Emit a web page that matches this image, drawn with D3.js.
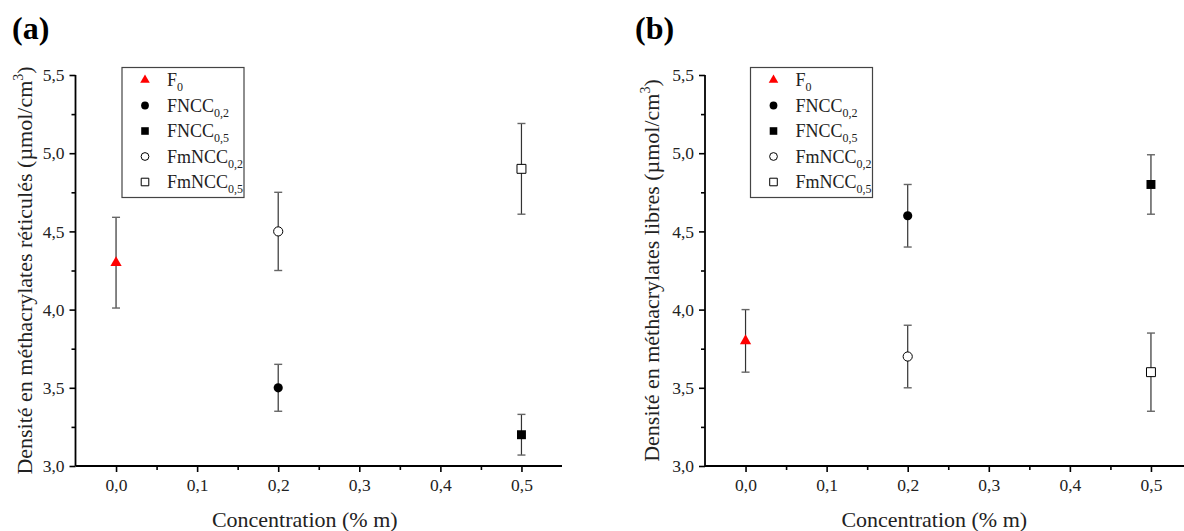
<!DOCTYPE html>
<html><head><meta charset="utf-8">
<script src="https://cdn.jsdelivr.net/npm/d3@7"></script>
<style>
body{margin:0;background:#fff;}
text{font-family:"Liberation Serif","Times New Roman",serif;}
</style></head>
<body><svg id="c" width="1184" height="531"></svg>
<script>
const seriesNames = ["F", "FNCC", "FNCC", "FmNCC", "FmNCC"];
const seriesSubs = ["0", "0,2", "0,5", "0,2", "0,5"];
const concentrations = [0.0, 0.2, 0.5, 0.2, 0.5];
const reticulesValues = [4.3, 3.5, 3.2, 4.5, 4.9];
const reticulesErrors = [0.29, 0.15, 0.13, 0.25, 0.29];
const libresValues = [3.8, 4.6, 4.8, 3.7, 3.6];
const libresErrors = [0.20, 0.20, 0.19, 0.20, 0.25];
const xTickValues = [0.0, 0.1, 0.2, 0.3, 0.4, 0.5];
const xTickLabels = ["0,0", "0,1", "0,2", "0,3", "0,4", "0,5"];
const yTickValues = [3.0, 3.5, 4.0, 4.5, 5.0, 5.5];
const yTickLabels = ["3,0", "3,5", "4,0", "4,5", "5,0", "5,5"];
const markerShapes = ["triangle", "circle", "square", "circle", "square"];
const markerFilled = [true, true, true, false, false];
const markerColors = ["#ff0000", "#000", "#000", "#000", "#000"];

const FONT = "Liberation Serif";
const svg = d3.select("#c");

function drawPanel(cfg) {
  const g = svg.append("g").attr("font-family", FONT);
  const x = d3.scaleLinear().domain([-0.05, 0.55]).range([cfg.left, cfg.left + 486.5]);
  const y = d3.scaleLinear().domain([3.0, 5.5]).range([466, 75]);

  g.append("text").attr("x", cfg.letterX).attr("y", 39).attr("font-family", FONT)
    .attr("font-size", 32).attr("font-weight", "bold").text(cfg.letter);

  const xa = g.append("g").attr("transform", `translate(0,${y(3.0)})`)
    .call(d3.axisBottom(x).tickValues(xTickValues).tickSize(6).tickPadding(7)
      .tickFormat((d, i) => xTickLabels[i]));
  const xm = g.append("g").attr("transform", `translate(0,${y(3.0)})`)
    .call(d3.axisBottom(x).tickValues([0.05, 0.15, 0.25, 0.35, 0.45]).tickSize(4).tickFormat(""));
  xm.select(".domain").remove();
  const ya = g.append("g").attr("transform", `translate(${x(-0.05)},0)`)
    .call(d3.axisLeft(y).tickValues(yTickValues).tickSize(6).tickPadding(5)
      .tickFormat((d, i) => yTickLabels[i]));
  const ym = g.append("g").attr("transform", `translate(${x(-0.05)},0)`)
    .call(d3.axisLeft(y).tickValues([3.25, 3.75, 4.25, 4.75, 5.25]).tickSize(4).tickFormat(""));
  ym.select(".domain").remove();
  [xa, ya, xm, ym].forEach(a => a.attr("font-family", FONT));
  [xa, ya].forEach(a => {
    a.select(".domain").attr("stroke", "#000").attr("stroke-width", 1.8)
      .attr("d", a === xa ? `M${x(-0.05)},0H${x(0.55)}` : `M0,${y(3.0)}V${y(5.5)}`);
    a.selectAll("text").attr("font-family", FONT).attr("font-size", 17.5).attr("fill", "#222");
  });
  g.selectAll(".tick line").attr("stroke", "#000").attr("stroke-width", 1.6);

  g.append("text").attr("x", (x(-0.05) + x(0.55)) / 2 - 14).attr("y", 527).attr("font-family", FONT)
    .attr("text-anchor", "middle").attr("font-size", 22).attr("fill", "#222")
    .text("Concentration (% m)");
  const yt = g.append("text").attr("transform", `translate(${cfg.titleX},${(y(3.0) + y(5.5)) / 2}) rotate(-90)`)
    .attr("font-family", FONT).attr("text-anchor", "middle").attr("font-size", 22).attr("fill", "#222");
  yt.append("tspan").text(cfg.yTitle + " (µmol/cm");
  yt.append("tspan").attr("font-size", 14).attr("dy", -9).text("3");
  yt.append("tspan").attr("dy", 9).text(")");

  const vals = cfg.values, errs = cfg.errors;
  concentrations.forEach((c, i) => {
    const cx = x(c);
    g.append("line").attr("x1", cx).attr("x2", cx).attr("y1", y(vals[i] - errs[i])).attr("y2", y(vals[i] + errs[i]))
      .attr("stroke", "#333").attr("stroke-width", 1.2);
    [vals[i] - errs[i], vals[i] + errs[i]].forEach(v => {
      g.append("line").attr("x1", cx - 4).attr("x2", cx + 4).attr("y1", y(v)).attr("y2", y(v))
        .attr("stroke", "#666").attr("stroke-width", 1.4);
    });
  });

  function marker(sel, i, scale) {
    const type = markerShapes[i] === "triangle" ? d3.symbolTriangle : markerShapes[i] === "circle" ? d3.symbolCircle : d3.symbolSquare;
    const base = markerShapes[i] === "triangle" ? 55 : markerShapes[i] === "circle" ? 66 : 80;
    sel.attr("d", d3.symbol().type(type).size(base * scale)())
      .attr("fill", markerFilled[i] ? markerColors[i] : "#fff")
      .attr("stroke", markerFilled[i] ? "none" : "#000").attr("stroke-width", 1);
  }
  concentrations.forEach((c, i) => {
    g.append("path").attr("transform", `translate(${x(c)},${y(vals[i])})`).call(marker, i, 1);
  });

  const lg = g.append("g");
  lg.append("rect").attr("x", cfg.legX).attr("y", 67.5).attr("width", 122).attr("height", 130)
    .attr("fill", "#fff").attr("stroke", "#444").attr("stroke-width", 1.2);
  seriesNames.forEach((n, i) => {
    const ry = 80 + i * 25.5;
    lg.append("path").attr("transform", `translate(${cfg.legX + 23},${ry})`).call(marker, i, 0.72);
    const t = lg.append("text").attr("x", cfg.legX + 45).attr("y", ry + 6).attr("font-family", FONT)
      .attr("font-size", 18).attr("fill", "#222");
    t.append("tspan").text(n);
    t.append("tspan").attr("font-size", 12).attr("dy", 5).text(seriesSubs[i]);
  });
}

drawPanel({letter: "(a)", letterX: 12, left: 75.5, titleX: 32, legX: 122,
  yTitle: "Densité en méthacrylates réticulés", values: reticulesValues, errors: reticulesErrors});
drawPanel({letter: "(b)", letterX: 635, left: 705, titleX: 659, legX: 750.5,
  yTitle: "Densité en méthacrylates libres", values: libresValues, errors: libresErrors});
</script></body></html>
